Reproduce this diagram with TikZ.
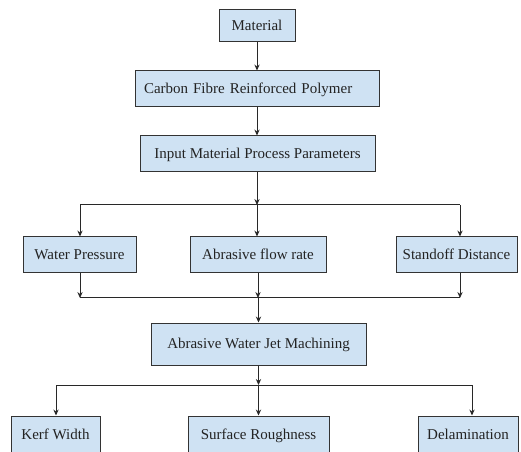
\documentclass[tikz,border=0pt]{standalone}
\usepackage{fontspec}
\setmainfont{Liberation Serif}
\usetikzlibrary{arrows.meta}

\tikzset{every picture/.style={line width=0.75pt}}
\tikzset{
  blockbox/.style={draw={rgb, 255:red, 51; green, 51; blue, 51}, fill={rgb, 255:red, 207; green, 226; blue, 243}, text={rgb, 255:red, 35; green, 35; blue, 35}, font=\fontsize{11.25pt}{13pt}\selectfont, inner sep=0pt, text height=7.5pt, text depth=0.5pt, minimum height=27pt},
  flowarrow/.style={draw={rgb, 255:red, 40; green, 40; blue, 40}, -{Stealth[length=4.5pt,width=4pt]}},
  flowline/.style={draw={rgb, 255:red, 40; green, 40; blue, 40}}
}

\begin{document}
\begin{tikzpicture}[x=0.75pt,y=0.75pt,yscale=-1,xscale=1]
\path[use as bounding box] (0,0) rectangle (521,452);
\clip (0,0) rectangle (521,452);

% Blocks
\node[blockbox, minimum width=57pt, minimum height=24pt] (mat) at (257,26) {Material};
\node[blockbox, text width=169.5pt, inner xsep=6.75pt, align=left] (cfrp) at (257,89) {Carbon Fibre Reinforced Polymer};
\node[blockbox, minimum width=176.25pt] (inp) at (257.5,154) {Input Material Process Parameters};

\node[blockbox, minimum width=84.75pt] (wp) at (79.5,255) {Water Pressure};
\node[blockbox, minimum width=102pt] (afr) at (258,255) {Abrasive flow rate};
\node[blockbox, minimum width=90.75pt] (sd) at (456.5,255) {Standoff Distance};

\node[blockbox, minimum width=161.25pt, minimum height=31.5pt] (awj) at (258.5,344) {Abrasive Water Jet Machining};

\node[blockbox, minimum width=66.75pt, minimum height=28.5pt] (kw) at (55.5,435) {Kerf Width};
\node[blockbox, minimum width=105.75pt, minimum height=28.5pt] (sr) at (258.5,435) {Surface Roughness};
\node[blockbox, minimum width=75pt, minimum height=28.5pt] (del) at (468,435) {Delamination};

% Junctions
\coordinate (split1) at (257,205);
\coordinate (split1l) at (80,205);
\coordinate (split1r) at (460,205);
\coordinate (merge) at (258.5,298);
\coordinate (mergel) at (80,298);
\coordinate (merger) at (460,298);
\coordinate (split2) at (258.5,385);
\coordinate (split2l) at (56,385);
\coordinate (split2r) at (472,385);

% Connectors
\draw[flowarrow] (mat) -- (cfrp);
\draw[flowarrow] (cfrp) -- (cfrp.south |- inp.north);
\draw[flowarrow] (inp.south -| split1) -- (split1);
\draw[flowline] (split1l) -- (split1r);
\draw[flowarrow] (split1l) -- (split1l |- wp.north);
\draw[flowarrow] (split1) -- (split1 |- afr.north);
\draw[flowarrow] (split1r) -- (split1r |- sd.north);

\draw[flowarrow] (wp.south -| mergel) -- (mergel);
\draw[flowarrow] (afr) -- (afr.center |- merge);
\draw[flowarrow] (sd.south -| merger) -- (merger);
\draw[flowline] (mergel) -- (merger);
\draw[flowarrow] (merge) -- (awj);

\draw[flowarrow] (awj) -- (split2);
\draw[flowline] (split2l) -- (split2r);
\draw[flowarrow] (split2l) -- (split2l |- kw.north);
\draw[flowarrow] (split2) -- (sr);
\draw[flowarrow] (split2r) -- (split2r |- del.north);

\end{tikzpicture}
\end{document}
